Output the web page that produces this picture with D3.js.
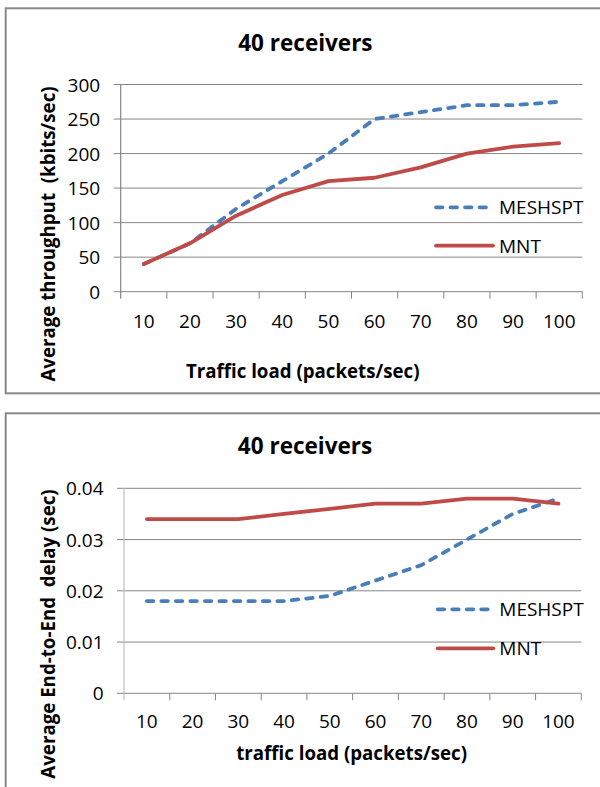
<!DOCTYPE html>
<html>
<head>
<meta charset="utf-8">
<script src="https://cdn.jsdelivr.net/npm/d3@7/dist/d3.min.js"></script>
<style>
  html, body { margin: 0; padding: 0; background: #fff; }
  svg { display: block; font-family: "Open Sans", sans-serif; }
  text { fill: #000; white-space: pre; }
</style>
</head>
<body>
<svg id="chart" width="600" height="787"></svg>
<script>
// Traffic load categories (packets/sec)
const categories = [10, 20, 30, 40, 50, 60, 70, 80, 90, 100];

// Average throughput (kbits/sec), 40 receivers
const throughputMeshspt = [40, 70, 120, 160, 200, 250, 260, 270, 270, 275];
const throughputMnt     = [40, 70, 110, 140, 160, 165, 180, 200, 210, 215];
const throughputTicks   = [0, 50, 100, 150, 200, 250, 300];

// Average end-to-end delay (sec), 40 receivers
const delayMeshspt = [0.018, 0.018, 0.018, 0.018, 0.019, 0.022, 0.025, 0.030, 0.035, 0.038];
const delayMnt     = [0.034, 0.034, 0.034, 0.035, 0.036, 0.037, 0.037, 0.038, 0.038, 0.037];
const delayTicks   = [0, 0.01, 0.02, 0.03, 0.04];

const seriesNames = ["MESHSPT", "MNT"];
const BLUE = "#4A7EBB", RED = "#BE4B48", GRID = "#868686";
const LINE_W = 3.8;

const svg = d3.select("#chart");

function drawPanel(cfg) {
  const g = svg.append("g");

  // outer frame of the panel
  g.append("rect")
    .attr("x", 5.7).attr("y", cfg.frameTop)
    .attr("width", 620).attr("height", cfg.frameHeight)
    .attr("fill", "none").attr("stroke", "#898989").attr("stroke-width", 2);

  const x = d3.scaleBand().domain(categories).range([cfg.left, cfg.right]).padding(0);
  const y = d3.scaleLinear().domain(cfg.domain).range([cfg.bottom, cfg.top]);
  const cx = d => x(d) + x.bandwidth() / 2;

  // horizontal gridlines (extend a little left of the value axis as tick marks)
  g.append("g").selectAll("line").data(cfg.ticks).join("line")
    .attr("x1", cfg.left - 7).attr("x2", cfg.right)
    .attr("y1", d => y(d)).attr("y2", d => y(d))
    .attr("stroke", GRID).attr("stroke-width", 1);

  // value axis line
  g.append("line")
    .attr("x1", cfg.left).attr("x2", cfg.left)
    .attr("y1", y(cfg.domain[1])).attr("y2", y(0) + 7)
    .attr("stroke", cfg.axisColor).attr("stroke-width", 1.2);

  // category tick marks between categories
  const edges = categories.map(c => x(c)).concat([x(categories[categories.length - 1]) + x.bandwidth()]);
  g.append("g").selectAll("line").data(edges.slice(1)).join("line")
    .attr("x1", d => d).attr("x2", d => d)
    .attr("y1", y(0)).attr("y2", y(0) + 7)
    .attr("stroke", GRID).attr("stroke-width", 1);

  // value labels
  const yAxis = d3.axisLeft(y).tickValues(cfg.ticks).tickSize(0).tickPadding(0).tickFormat(cfg.fmt);
  const ya = g.append("g").attr("transform", `translate(${cfg.left - 20.5},0)`).call(yAxis);
  ya.select(".domain").remove();
  ya.selectAll("text").attr("font-size", 19).attr("font-family", "Open Sans").attr("fill", "#000")
    .attr("dy", "0.35em");

  // category labels
  const xAxis = d3.axisBottom(x).tickSize(0).tickPadding(0);
  const xa = g.append("g").attr("transform", `translate(0,${cfg.labelBase})`).call(xAxis);
  xa.select(".domain").remove();
  xa.selectAll("text").attr("font-size", 19).attr("font-family", "Open Sans").attr("fill", "#000")
    .attr("dy", 0).attr("y", 0);

  // series lines
  const line = d3.line().x((d, i) => cx(categories[i])).y(d => y(d));
  g.append("path").datum(cfg.series[0])
    .attr("d", line).attr("fill", "none").attr("stroke", BLUE)
    .attr("stroke-width", LINE_W).attr("stroke-dasharray", "6.5,8").attr("stroke-linecap", "round")
    .attr("stroke-linejoin", "round");
  g.append("path").datum(cfg.series[1])
    .attr("d", line).attr("fill", "none").attr("stroke", RED)
    .attr("stroke-width", LINE_W).attr("stroke-linecap", "round").attr("stroke-linejoin", "round");

  // legend
  const leg = g.append("g");
  seriesNames.forEach((name, i) => {
    const ly = cfg.legendY[i];
    leg.append("line")
      .attr("x1", cfg.legendX[0]).attr("x2", cfg.legendX[1])
      .attr("y1", ly).attr("y2", ly)
      .attr("stroke", i === 0 ? BLUE : RED).attr("stroke-width", LINE_W)
      .attr("stroke-linecap", "round")
      .attr("stroke-dasharray", i === 0 ? "6.5,8" : null);
    leg.append("text")
      .attr("x", cfg.legendX[1] + 6).attr("y", ly).attr("dy", "0.36em")
      .attr("font-size", 19).text(name);
  });

  // chart title
  g.append("text")
    .attr("x", cfg.titleX).attr("y", cfg.titleY)
    .attr("text-anchor", "middle").attr("font-size", 22.5).attr("font-weight", 700)
    .text("40 receivers");

  // axis titles
  g.append("text")
    .attr("x", cfg.xTitle[0]).attr("y", cfg.xTitle[1])
    .attr("text-anchor", "middle").attr("font-size", 18.7).attr("font-weight", 700)
    .text(cfg.xLabel);
  g.append("text")
    .attr("transform", `translate(${cfg.yTitle[0]},${cfg.yTitle[1]}) rotate(-90)`)
    .attr("text-anchor", "middle").attr("font-size", 18.7).attr("font-weight", 700)
    .text(cfg.yLabel);
}

drawPanel({
  frameTop: 8.3, frameHeight: 385,
  left: 120.7, right: 582.3, top: 84.5, bottom: 291.7,
  domain: [0, 300], ticks: throughputTicks, fmt: d3.format("d"),
  axisColor: GRID, labelBase: 328.3,
  series: [throughputMeshspt, throughputMnt],
  legendX: [436, 493], legendY: [207.3, 245.7],
  titleX: 305.4, titleY: 50.5,
  xTitle: [302.7, 377.7], xLabel: "Traffic load (packets/sec)",
  yTitle: [55, 234], yLabel: "Average throughput  (kbits/sec)"
});

drawPanel({
  frameTop: 413.3, frameHeight: 400,
  left: 124, right: 581.3, top: 488.3, bottom: 693.3,
  domain: [0, 0.04], ticks: delayTicks, fmt: d => d === 0 ? "0" : d3.format(".2f")(d),
  axisColor: "#BFBFBF", labelBase: 728.3,
  series: [delayMeshspt, delayMnt],
  legendX: [437.7, 493.3], legendY: [609.3, 648.3],
  titleX: 305, titleY: 454.3,
  xTitle: [351.6, 760], xLabel: "traffic load (packets/sec)",
  yTitle: [55, 634], yLabel: "Average End-to-End  delay (sec)"
});
</script>
</body>
</html>
